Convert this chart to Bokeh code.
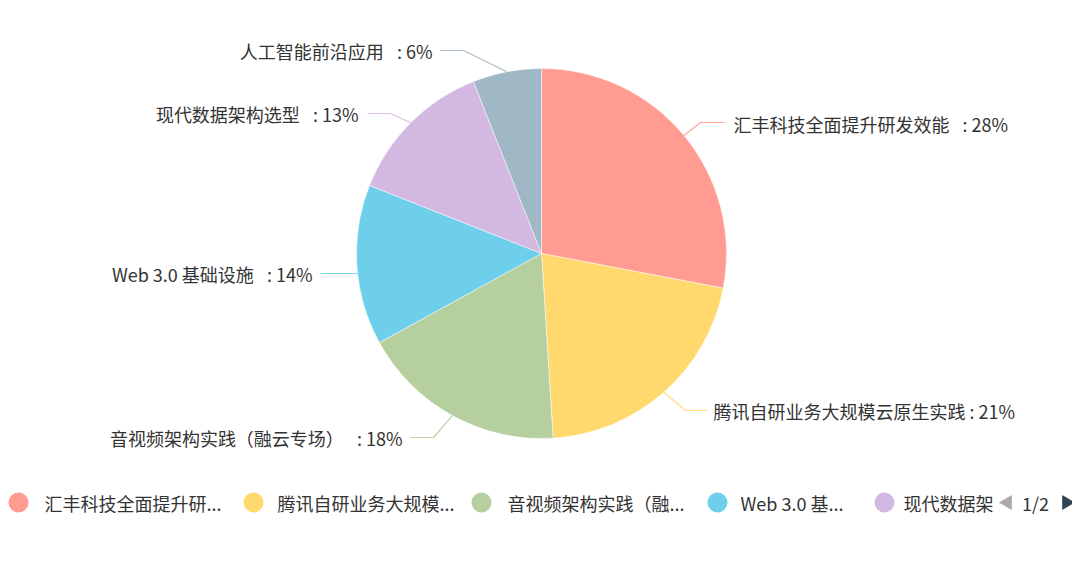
import math
from bokeh.plotting import figure
from bokeh.models import Range1d, ColumnDataSource
from bokeh.core.properties import value
from bokeh.embed import file_html
from bokeh.resources import INLINE

# ---- data ----
names = ["汇丰科技全面提升研发效能\u2002", "腾讯自研业务大规模云原生实践", "音视频架构实践（融云专场）\u2002",
         "Web 3.0 基础设施\u2002", "现代数据架构选型\u2002", "人工智能前沿应用\u2002"]
values = [28, 21, 18, 14, 13, 6]
colors = ["#FF9B90", "#FFD96E", "#B5CF9E", "#6DCFEA", "#D3B9E1", "#A0B7C5"]
page_label = "1/2"

W, H = 1072, 556
def X(xi): return xi
def Y(yi): return H - yi

CX, CY, R = 541, 253, 185
FONT = value("Noto Sans CJK SC")

p = figure(width=W, height=H, x_range=Range1d(0, W), y_range=Range1d(0, H),
           output_backend="svg", toolbar_location=None, min_border=0)
p.axis.visible = False
p.grid.visible = False
p.outline_line_color = None
p.background_fill_color = "white"

total = sum(values)
cum = 0
starts, ends, mids = [], [], []
for v in values:
    t1 = cum / total * 2 * math.pi
    cum += v
    t2 = cum / total * 2 * math.pi
    starts.append(math.pi / 2 - t2)
    ends.append(math.pi / 2 - t1)
    mids.append((t1 + t2) / 2)

src = ColumnDataSource(dict(start=starts, end=ends, color=colors))
p.wedge(x=X(CX), y=Y(CY), radius=R, start_angle="start", end_angle="end",
        fill_color="color", line_color="white", line_width=0.5, source=src)

# label layout (image pixel coords): text anchor, elbow, line end
label_pos = [(733, 123, "left"), (713, 410, "left"), (402, 437, "right"),
             (312, 273, "right"), (358, 113, "right"), (432, 50, "right")]
elbows = [(700, 122), (685, 410), (433, 437), (340, 273), (390, 113), (463, 50)]
line_ends = [(724, 122), (707, 410), (410, 437), (320, 273), (367, 113), (440, 50)]

xs, ys = [], []
for i, m in enumerate(mids):
    ex = CX + R * math.sin(m)
    ey = CY - R * math.cos(m)
    if i == 3:
        ex, ey = CX - math.sqrt(R * R - (273 - CY) ** 2), 273
    xs.append([X(ex), X(elbows[i][0]), X(line_ends[i][0])])
    ys.append([Y(ey), Y(elbows[i][1]), Y(line_ends[i][1])])
p.multi_line(xs=xs, ys=ys, line_color=colors, line_width=1.2, line_alpha=0.9)

for i, (n, v) in enumerate(zip(names, values)):
    lx, ly, al = label_pos[i]
    p.text(x=[X(lx)], y=[Y(ly)], text=[f"{n}\u00a0:\u00a0{v}%"], text_align=al,
           text_baseline="middle", text_font=FONT, text_font_size="18px",
           text_color="#333333")

# ---- legend (first page) ----
leg_cx = [18, 253, 481, 717, 884]
leg_tx = [44, 277, 507, 740, 903]
leg_y = 502
shown = 5
leg_texts = []
for i in range(shown):
    n = names[i].strip("\u2002 ")
    leg_texts.append(n[:9] + "..." if len(n) > 9 else n)
leg_texts[4] = names[4].strip("\u2002 ")[:5]

p.scatter(x=[X(c) for c in leg_cx], y=[Y(leg_y)] * shown, size=20,
          marker="circle", fill_color=colors[:shown], line_color=None)
p.text(x=[X(t) for t in leg_tx], y=[Y(leg_y)] * shown, text=leg_texts,
       text_align="left", text_baseline="middle", text_font=FONT,
       text_font_size="18px", text_color="#333333")

# pager
p.scatter(x=[X(1007)], y=[Y(leg_y)], marker="triangle", size=15,
          angle=math.pi / 2, fill_color="#AAAAAA", line_color=None)
p.scatter(x=[X(1066)], y=[Y(leg_y)], marker="triangle", size=15,
          angle=-math.pi / 2, fill_color="#2F4554", line_color=None)
p.text(x=[X(1035)], y=[Y(leg_y)], text=[page_label], text_align="center",
       text_baseline="middle", text_font=FONT, text_font_size="18px",
       text_color="#333333")

open("out.html", "w").write(file_html(p, INLINE))
